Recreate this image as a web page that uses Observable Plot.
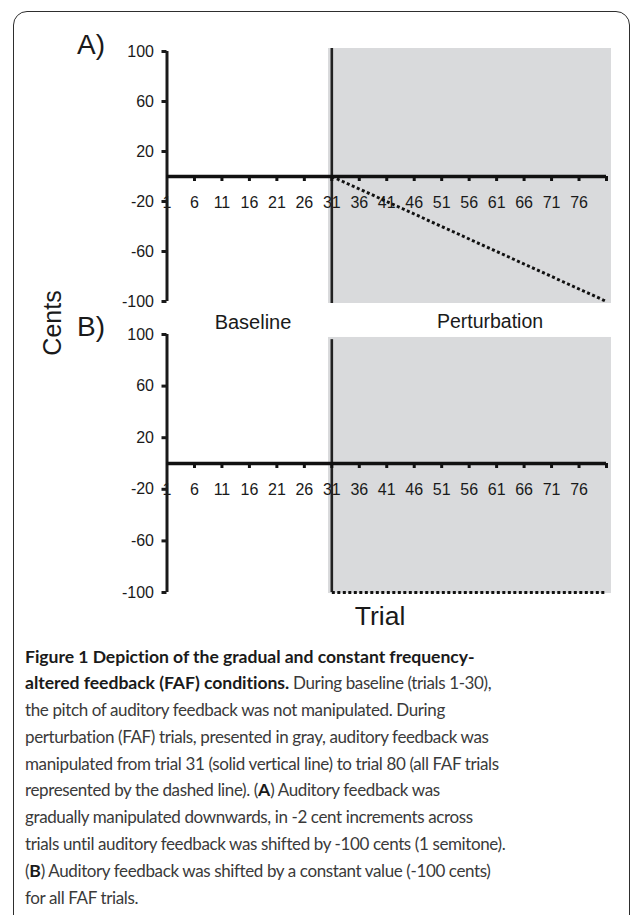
<!DOCTYPE html>
<html>
<head>
<meta charset="utf-8">
<script src="https://cdn.jsdelivr.net/npm/d3@7"></script>
<script src="https://cdn.jsdelivr.net/npm/@observablehq/plot@0.6"></script>
<style>
  html, body { margin: 0; padding: 0; background: #fff; }
  body { width: 633px; height: 915px; position: relative; overflow: hidden; }
  #frame { position: absolute; left: 13px; top: 11px; width: 617px; height: 930px;
           border: 1.5px solid #2e2e2e; border-radius: 14px; box-sizing: border-box; }
  .plot { position: absolute; left: 0; }
  .lbl { position: absolute; font-family: "Liberation Sans", Arial, sans-serif; color: #1a1a1a;
         line-height: 1; white-space: nowrap; }
  #caption { position: absolute; left: 25px; top: 643.5px; font-family: Lato, "Open Sans", sans-serif;
             font-size: 17px; letter-spacing: -0.38px; line-height: 26.8px; color: #3a3a3a; }
  #caption div { white-space: nowrap; }
  #caption b { color: #1a1a1a; font-size: 17.6px; letter-spacing: -0.05px; }
</style>
</head>
<body>
<div id="frame"></div>
<div id="plotA" class="plot" style="top:0px"></div>
<div id="plotB" class="plot" style="top:300px"></div>
<div class="lbl" style="left:77px; top:31px; font-size:28px;">A)</div>
<div class="lbl" style="left:77px; top:313px; font-size:28px;">B)</div>
<div class="lbl" style="left:52px; top:323px; font-size:25px; transform: translate(-50%,-50%) rotate(-90deg);">Cents</div>
<div class="lbl" style="left:253px; top:311.5px; font-size:20px; transform: translateX(-50%);">Baseline</div>
<div class="lbl" style="left:490px; top:312px; font-size:19.5px; transform: translateX(-50%);">Perturbation</div>
<div class="lbl" style="left:380px; top:602.5px; font-size:26.5px; transform: translateX(-50%);">Trial</div>
<div id="caption">
  <div><b>Figure 1 Depiction of the gradual and constant frequency-</b></div>
  <div><b>altered feedback (FAF) conditions.</b> During baseline (trials 1-30),</div>
  <div>the pitch of auditory feedback was not manipulated. During</div>
  <div>perturbation (FAF) trials, presented in gray, auditory feedback was</div>
  <div>manipulated from trial 31 (solid vertical line) to trial 80 (all FAF trials</div>
  <div>represented by the dashed line). (<b>A</b>) Auditory feedback was</div>
  <div>gradually manipulated downwards, in -2 cent increments across</div>
  <div>trials until auditory feedback was shifted by -100 cents (1 semitone).</div>
  <div>(<b>B</b>) Auditory feedback was shifted by a constant value (-100 cents)</div>
  <div>for all FAF trials.</div>
</div>
<script>
// ---- data ----
const xTickLabels = [1, 6, 11, 16, 21, 26, 31, 36, 41, 46, 51, 56, 61, 66, 71, 76];
const xTickMarks = [6, 11, 16, 21, 26, 31, 36, 41, 46, 51, 56, 61, 66, 71, 76, 81];
const yTicks = [100, 60, 20, -20, -60, -100];
const trialDomain = [1, 81];
const centsDomain = [-100, 100];
const perturbationStart = 31;

const fafTrials = [31, 32, 33, 34, 35, 36, 37, 38, 39, 40, 41, 42, 43, 44, 45, 46, 47, 48, 49, 50,
  51, 52, 53, 54, 55, 56, 57, 58, 59, 60, 61, 62, 63, 64, 65, 66, 67, 68, 69, 70,
  71, 72, 73, 74, 75, 76, 77, 78, 79, 80, 81];
const gradualCents = [0, -2, -4, -6, -8, -10, -12, -14, -16, -18, -20, -22, -24, -26, -28, -30,
  -32, -34, -36, -38, -40, -42, -44, -46, -48, -50, -52, -54, -56, -58, -60, -62, -64, -66,
  -68, -70, -72, -74, -76, -78, -80, -82, -84, -86, -88, -90, -92, -94, -96, -98, -100];
const constantCents = [-100, -100, -100, -100, -100, -100, -100, -100, -100, -100, -100, -100,
  -100, -100, -100, -100, -100, -100, -100, -100, -100, -100, -100, -100, -100, -100, -100,
  -100, -100, -100, -100, -100, -100, -100, -100, -100, -100, -100, -100, -100, -100, -100,
  -100, -100, -100, -100, -100, -100, -100, -100, -100];

// shaded perturbation region extents (data units) per panel
const shadeA = [{x1: 30.4, x2: 81.9, y1: -101.6, y2: 102.4}];
const shadeB = [{x1: 30.4, x2: 81.9, y1: -100.8, y2: 97.7}];
const vlineA = [{x: perturbationStart, y1: -101.6, y2: 102.4}];
const vlineB = [{x: perturbationStart, y1: -100, y2: 96}];

function panel(values, shade, vline, opts) {
  const pts = fafTrials.map((t, i) => ({t, v: values[i]}));
  return Plot.plot({
    width: 633,
    height: opts.height,
    marginLeft: 166.5,
    marginRight: 27,
    marginTop: opts.marginTop,
    marginBottom: opts.marginBottom,
    x: {domain: trialDomain, axis: null},
    y: {domain: centsDomain, axis: null},
    style: {fontFamily: "'Liberation Sans', Arial, sans-serif", fontSize: "16px", color: "#1a1a1a",
            background: "transparent", overflow: "visible"},
    marks: [
      Plot.rect(shade, {x1: "x1", x2: "x2", y1: "y1", y2: "y2", fill: "#d9dadc"}),
      Plot.text(xTickLabels, {x: d => d, y: () => 0, dy: 26, text: d => String(d),
        fill: "#1a1a1a", fontSize: 16, textAnchor: "middle"}),
      Plot.axisY({ticks: yTicks, tickSize: 5, tickPadding: 8, strokeWidth: 3, label: null,
        tickFormat: d => String(d), fontSize: 16, stroke: "#1a1a1a", fill: "#1a1a1a"}),
      Plot.ruleX([trialDomain[0]], {y1: centsDomain[0], y2: centsDomain[1], stroke: "#1a1a1a", strokeWidth: 3}),
      Plot.ruleX(vline, {x: "x", y1: "y1", y2: "y2", stroke: "#222", strokeWidth: 2.6}),
      Plot.ruleY([0], {x1: trialDomain[0], x2: trialDomain[1], stroke: "#111", strokeWidth: 3.5}),
      Plot.ruleX(xTickMarks, {x: d => d, y1: () => 0, y2: () => 0, insetTop: 0, insetBottom: -5,
        stroke: "#111", strokeWidth: 3}),
      Plot.line(pts, {x: "t", y: "v", stroke: "#111", strokeWidth: 3, strokeDasharray: "3 2.5",
        strokeLinecap: "butt"})
    ]
  });
}

document.getElementById("plotA").append(
  panel(gradualCents, shadeA, vlineA, {height: 320, marginTop: 51, marginBottom: 19}));
document.getElementById("plotB").append(
  panel(constantCents, shadeB, vlineB, {height: 330, marginTop: 34, marginBottom: 38}));
</script>
</body>
</html>
